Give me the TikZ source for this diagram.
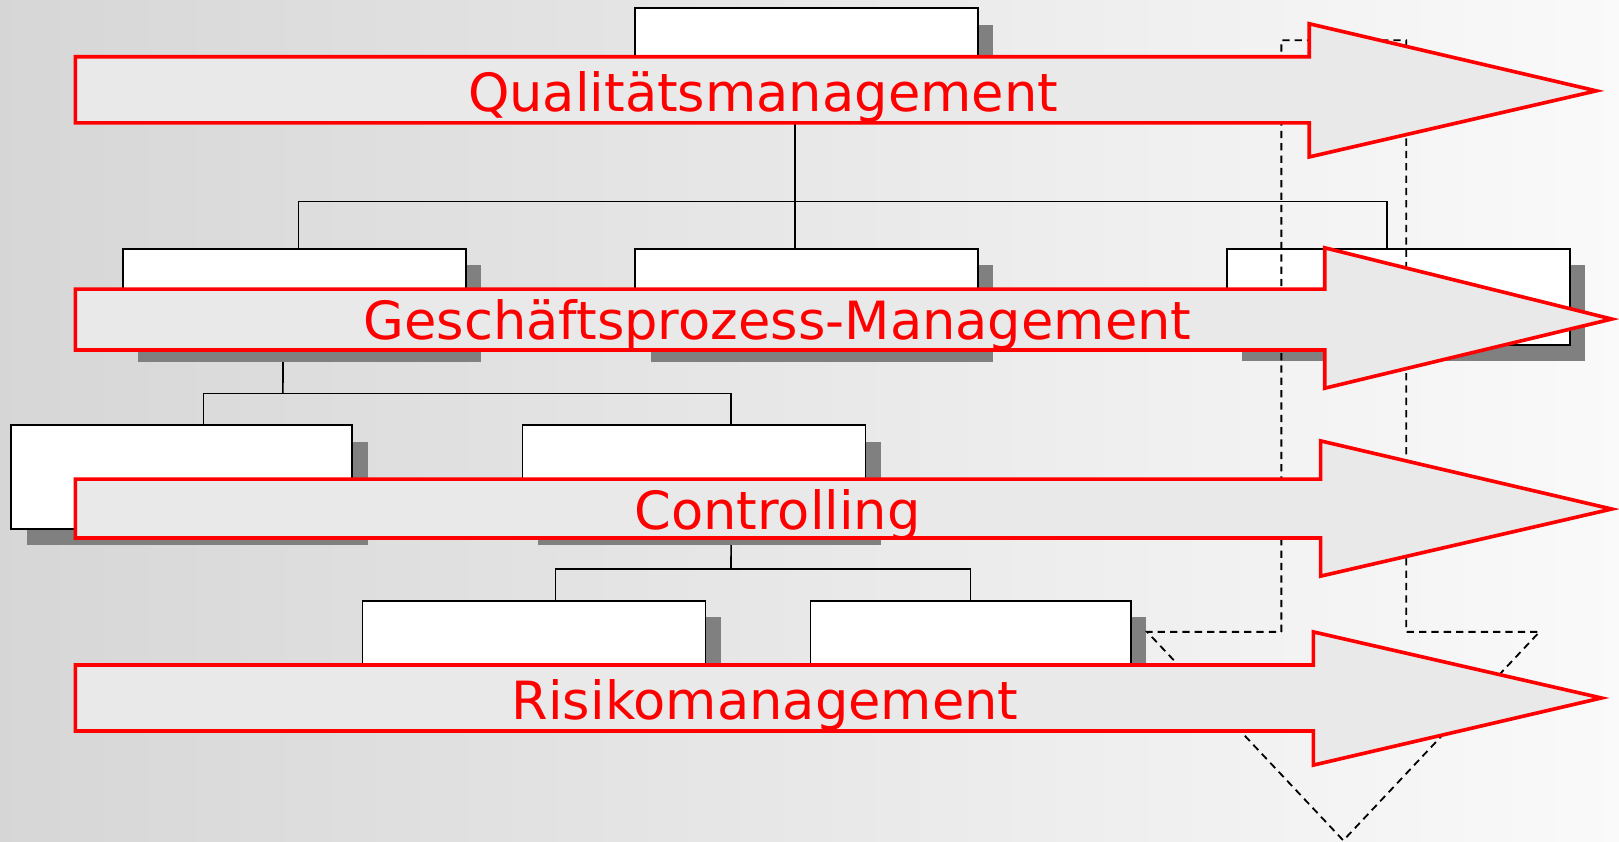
\documentclass[tikz,border=0pt]{standalone}
\usepackage{fontspec}
\usetikzlibrary{shadows}
\newfontfamily\bandfont{DejaVu Sans}

\pgfdeclarelayer{bg}
\pgfdeclarelayer{links}
\pgfsetlayers{bg,links,main}

\begin{document}
\begin{tikzpicture}[x=0.01cm, y=-0.01cm,
  unit/.style={draw, line width=0.5pt, fill=white, anchor=north west,
    inner sep=0pt, outer sep=0pt, minimum width=3.32cm, minimum height=0.94cm,
    drop shadow={shadow xshift=0.15cm, shadow yshift=-0.16cm, fill=gray, opacity=1}},
  link/.style={line width=0.45pt},
  band/.style={draw=red, line width=1pt, fill=gray!17},
  bandtext/.style={text=red, anchor=base, inner sep=0pt,
    font=\bandfont\fontsize{14.5pt}{16pt}\selectfont}]

% shaded backdrop
\begin{pgfonlayer}{bg}
\fill[left color=gray!32, right color=gray!4] (0,0) rectangle (1568,815);
\end{pgfonlayer}
\useasboundingbox (0,0) rectangle (1568,815);

% org chart
\node[unit] (q0) at (615,8) {};
\node[unit] (a1) at (119,241) {};
\node[unit] (a2) at (615,241) {};
\node[unit, minimum height=0.93cm] (a3) at (1188,241) {};
\node[unit, minimum width=3.30cm, minimum height=1cm] (b1) at (11,412) {};
\node[unit, minimum height=1cm] (b2) at (506,412) {};
\node[unit] (c1) at (351,582) {};
\node[unit, minimum width=3.10cm] (c2) at (785,582) {};

\coordinate (j1) at (770,195);
\coordinate (j2) at (274,381);
\coordinate (j3) at (708,551);

\begin{pgfonlayer}{links}
\draw[link] ([xshift=-0.11cm]q0.south) -- ([xshift=-0.11cm]a2.north);
\draw[link] ([xshift=0.04cm]a1.north) |- (j1) -| ([xshift=-0.11cm]a3.north);
\draw[link] ([xshift=-0.11cm]a1.south) -- (j2);
\draw[link] ([xshift=0.21cm]b1.north) |- (j2) -| ([xshift=0.36cm]b2.north);
\draw[link] ([xshift=0.36cm]b2.south) -- (j3);
\draw[link] ([xshift=0.21cm]c1.north) |- (j3) -| (c2.north);
\end{pgfonlayer}

% dashed down arrow
\draw[line width=0.5pt, dash pattern=on 2pt off 1.4pt]
  (1241,612) -- (1241,39) -- (1362,39) -- (1362,612) -- (1491,612)
  -- (1301,814) -- (1111,612) -- cycle;

% the four bands
\draw[band] (73,55) -- (1268,55) -- (1268,23) -- (1546,88) -- (1268,152) -- (1268,119) -- (73,119) -- cycle;
\draw[band] (73,280) -- (1283,280) -- (1283,240) -- (1561,309) -- (1283,376) -- (1283,339) -- (73,339) -- cycle;
\draw[band] (73,464) -- (1279,464) -- (1279,427) -- (1561,493) -- (1279,558) -- (1279,521) -- (73,521) -- cycle;
\draw[band] (73,644) -- (1272,644) -- (1272,612) -- (1551,676) -- (1272,741) -- (1272,708) -- (73,708) -- cycle;

\node[bandtext] (qm) at (739,108) {Qualitätsmanagement};
\node[bandtext] (gpm) at (753,329) {Geschäftsprozess-Management};
\node[bandtext] (ctl) at (753,513) {Controlling};
\node[bandtext] (rm) at (741,697) {Risikomanagement};
\end{tikzpicture}
\end{document}
